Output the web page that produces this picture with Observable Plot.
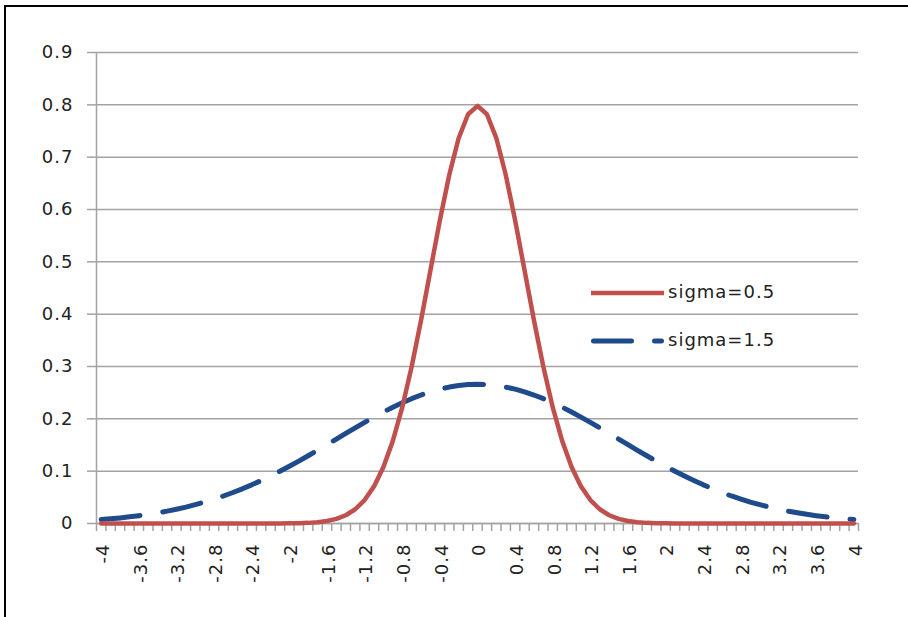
<!DOCTYPE html>
<html>
<head>
<meta charset="utf-8">
<script src="https://cdn.jsdelivr.net/npm/d3@7"></script>
<script src="https://cdn.jsdelivr.net/npm/@observablehq/plot@0.6"></script>
<style>
  html, body { margin: 0; padding: 0; background: #fff; }
  #wrap { position: relative; width: 908px; height: 617px; overflow: hidden; background: #fff; }
  #chart { position: absolute; left: 0; top: 0; }
  #frame { position: absolute; left: 4px; top: 5px; right: -10px; bottom: -10px;
           border-top: 2.5px solid #000; border-left: 2.5px solid #000; pointer-events: none; }
  .leg { position: absolute; font-family: "DejaVu Sans", sans-serif; font-size: 18px;
         letter-spacing: 1px; color: #222; line-height: 20px; }
  .legsvg { position: absolute; overflow: visible; }
</style>
</head>
<body>
<div id="wrap">
  <div id="chart"></div>
  <div id="frame"></div>
</div>
<script>
// Categories (x values, step 0.1)
const xValues = [-4.0,-3.9,-3.8,-3.7,-3.6,-3.5,-3.4,-3.3,-3.2,-3.1,-3.0,-2.9,-2.8,-2.7,-2.6,-2.5,-2.4,-2.3,-2.2,-2.1,
  -2.0,-1.9,-1.8,-1.7,-1.6,-1.5,-1.4,-1.3,-1.2,-1.1,-1.0,-0.9,-0.8,-0.7,-0.6,-0.5,-0.4,-0.3,-0.2,-0.1,
  0.0,0.1,0.2,0.3,0.4,0.5,0.6,0.7,0.8,0.9,1.0,1.1,1.2,1.3,1.4,1.5,1.6,1.7,1.8,1.9,
  2.0,2.1,2.2,2.3,2.4,2.5,2.6,2.7,2.8,2.9,3.0,3.1,3.2,3.3,3.4,3.5,3.6,3.7,3.8,3.9,4.0];

// Series: sigma = 0.5
const sigma05 = [0,0,0,0,0,0,0,0,0,0,
  0,0,0,0,0,0,0,0,0,0.0001,
  0.0003,0.0006,0.0012,0.0025,0.0048,0.0089,0.0158,0.0272,0.0448,0.0709,
  0.1080,0.1579,0.2218,0.2995,0.3884,0.4839,0.5794,0.6664,0.7365,0.7821,
  0.7979,
  0.7821,0.7365,0.6664,0.5794,0.4839,0.3884,0.2995,0.2218,0.1579,0.1080,
  0.0709,0.0448,0.0272,0.0158,0.0089,0.0048,0.0025,0.0012,0.0006,0.0003,
  0.0001,0,0,0,0,0,0,0,0,0,
  0,0,0,0,0,0,0,0,0,0];

// Series: sigma = 1.5
const sigma15 = [0.0076,0.0091,0.0107,0.0127,0.0149,0.0175,0.0204,0.0236,0.0273,0.0314,
  0.0360,0.0410,0.0466,0.0526,0.0592,0.0663,0.0739,0.0821,0.0907,0.0998,
  0.1093,0.1192,0.1295,0.1399,0.1506,0.1613,0.1721,0.1827,0.1931,0.2032,
  0.2130,0.2222,0.2307,0.2385,0.2455,0.2516,0.2567,0.2607,0.2636,0.2654,
  0.2660,
  0.2654,0.2636,0.2607,0.2567,0.2516,0.2455,0.2385,0.2307,0.2222,0.2130,
  0.2032,0.1931,0.1827,0.1721,0.1613,0.1506,0.1399,0.1295,0.1192,0.1093,
  0.0998,0.0907,0.0821,0.0739,0.0663,0.0592,0.0526,0.0466,0.0410,0.0360,
  0.0314,0.0273,0.0236,0.0204,0.0175,0.0149,0.0127,0.0107,0.0091,0.0076];

const seriesNames = ["sigma=0.5", "sigma=1.5"];
const seriesColors = ["#c0504d", "#1f4a8c"];

// Tick labels
const xTickLabels = [-4,-3.6,-3.2,-2.8,-2.4,-2,-1.6,-1.2,-0.8,-0.4,0,0.4,0.8,1.2,1.6,2,2.4,2.8,3.2,3.6,4];
const yTicks = [0,0.1,0.2,0.3,0.4,0.5,0.6,0.7,0.8,0.9];

const step = xValues[1] - xValues[0];
const xLo = xValues[0] - step / 2;
const xHi = xValues[xValues.length - 1] + step / 2;
const boundaries = xValues.map(v => v - step / 2).concat([xHi]);

const data05 = xValues.map((x, i) => ({x, y: sigma05[i]}));
const data15 = xValues.map((x, i) => ({x, y: sigma15[i]}));

const gridColor = "#a3a3a3";
const fmtX = d => String(d);
const fmtY = d => d === 0 ? "0" : d.toFixed(1);

const chart = Plot.plot({
  width: 908,
  height: 617,
  marginLeft: 96,
  marginRight: 50,
  marginTop: 52,
  marginBottom: 94,
  style: {fontFamily: "DejaVu Sans, sans-serif", fontSize: "18px", letterSpacing: "1px", background: "transparent", color: "#222"},
  x: {type: "linear", domain: [xLo, xHi], axis: null},
  y: {domain: [0, 0.9], axis: null},
  marks: [
    Plot.gridY(yTicks, {stroke: gridColor, strokeOpacity: 1, strokeWidth: 1.5}),
    Plot.axisY(yTicks, {tickSize: 9, tickPadding: 14, stroke: gridColor, strokeWidth: 1.5, strokeOpacity: 1, fill: "#222", tickFormat: fmtY, label: null}),
    Plot.ruleX([xLo], {stroke: gridColor, strokeWidth: 1.5}),
    Plot.ruleY([0], {stroke: gridColor, strokeWidth: 1.5}),
    Plot.axisX(boundaries, {tickSize: 8, stroke: gridColor, strokeWidth: 1.5, strokeOpacity: 1, tickFormat: () => "", label: null}),
    Plot.text(xTickLabels, {x: d => d, text: fmtX, frameAnchor: "bottom", rotate: -90, textAnchor: "end", lineAnchor: "middle", dy: 20, dx: 2, fill: "#222"}),
    Plot.line(data15, {x: "x", y: "y", stroke: seriesColors[1], strokeWidth: 5, strokeDasharray: "39,23", strokeLinecap: "round", strokeLinejoin: "round"}),
    Plot.line(data05, {x: "x", y: "y", stroke: seriesColors[0], strokeWidth: 4.5, strokeLinejoin: "round"})
  ]
});
document.getElementById("chart").appendChild(chart);

// Legend (HTML overlay)
const wrap = document.getElementById("wrap");
const legendRows = [
  {name: seriesNames[0], color: seriesColors[0], dash: null, width: 4.5, top: 293},
  {name: seriesNames[1], color: seriesColors[1], dash: "39,23", width: 5, top: 341}
];
legendRows.forEach(r => {
  const ns = "http://www.w3.org/2000/svg";
  const svg = document.createElementNS(ns, "svg");
  svg.setAttribute("class", "legsvg");
  svg.setAttribute("width", 80);
  svg.setAttribute("height", 12);
  svg.style.left = "588px";
  svg.style.top = (r.top - 6) + "px";
  const ln = document.createElementNS(ns, "line");
  ln.setAttribute("x1", r.dash ? 5.5 : 3);
  ln.setAttribute("x2", r.dash ? 73.5 : 76);
  ln.setAttribute("y1", 6);
  ln.setAttribute("y2", 6);
  ln.setAttribute("stroke", r.color);
  ln.setAttribute("stroke-width", r.width);
  if (r.dash) { ln.setAttribute("stroke-dasharray", "38,23"); ln.setAttribute("stroke-linecap", "round"); }
  svg.appendChild(ln);
  wrap.appendChild(svg);
  const t = document.createElement("div");
  t.className = "leg";
  t.textContent = r.name;
  t.style.left = "668px";
  t.style.top = (r.top - 11) + "px";
  wrap.appendChild(t);
});
</script>
</body>
</html>
